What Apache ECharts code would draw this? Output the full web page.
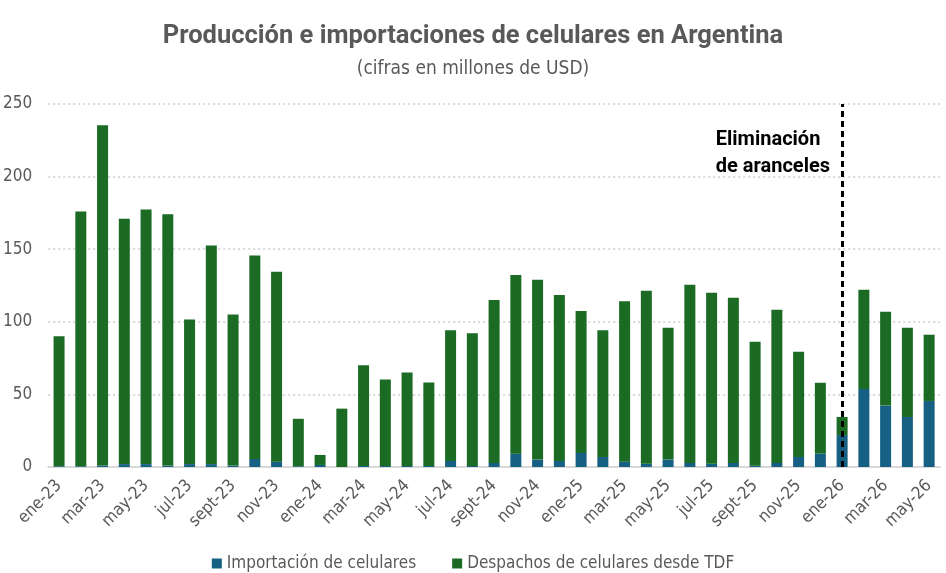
<!DOCTYPE html>
<html>
<head>
<meta charset="utf-8">
<script src="https://cdn.jsdelivr.net/npm/echarts@6/dist/echarts.min.js"></script>
<style>
  html, body { margin: 0; padding: 0; background: #fff; }
  #chart { width: 946px; height: 573px; }
</style>
</head>
<body>
<div id="chart"></div>
<script>
// Producción e importaciones de celulares (millones de USD)

var meses = [
    'ene-23', 'feb-23', 'mar-23', 'abr-23', 'may-23', 'jun-23', 'jul-23', 'ago-23', 'sept-23', 'oct-23', 'nov-23', 'dic-23',
    'ene-24', 'feb-24', 'mar-24', 'abr-24', 'may-24', 'jun-24', 'jul-24', 'ago-24', 'sept-24', 'oct-24', 'nov-24', 'dic-24',
    'ene-25', 'feb-25', 'mar-25', 'abr-25', 'may-25', 'jun-25', 'jul-25', 'ago-25', 'sept-25', 'oct-25', 'nov-25', 'dic-25',
    'ene-26', 'feb-26', 'mar-26', 'abr-26', 'may-26'
];

// importaciones (parte azul)
var importacion = [
    0.5, 0.5, 1, 2, 2, 1, 2, 2, 1, 5.5, 3.7, 0.5,
    1.4, 0, 0.7, 0.7, 0.7, 0.7, 4.2, 0.7, 2.8, 9.2, 5.1, 4.2,
    9.7, 6.9, 3.7, 2.3, 5.1, 2.8, 2.3, 2.8, 0.9, 2.8, 6.9, 9.2,
    22, 53.8, 42.3, 34.5, 45.5
];

// total de cada barra (azul + verde)
var total = [
    90, 176, 235.3, 171, 177.3, 174, 101.5, 152.5, 105, 145.6, 134.5, 33.2,
    8.3, 40.2, 70, 60.3, 65.1, 58.2, 94.2, 92.1, 115, 132.3, 128.9, 118.5,
    107.4, 94.2, 114.1, 121.4, 95.9, 125.6, 120, 116.6, 86.2, 108.3, 79.3, 58,
    34.5, 122.1, 107, 95.9, 91.1
];

var despachos = total.map(function (t, i) {
    return +(t - importacion[i]).toFixed(1);
});

var gris = '#595959';
var fuente = "'Liberation Sans Narrow', 'DejaVu Sans Condensed', Roboto, sans-serif";

var chart = echarts.init(document.getElementById('chart'), null, {renderer: 'canvas'});

var option = {
    backgroundColor: '#fff',
    animation: false,
    title: {
        text: 'Producción e importaciones de celulares en Argentina',
        subtext: '(cifras en millones de USD)',
        left: 'center',
        top: 19,
        itemGap: 10,
        textStyle: {
            fontFamily: 'Roboto, sans-serif',
            fontWeight: 'bold',
            fontSize: 25.5,
            color: gris
        },
        subtextStyle: {
            fontFamily: fuente,
            fontSize: 19,
            color: gris
        }
    },
    legend: {
        bottom: -4,
        left: 'center',
        itemWidth: 10,
        itemHeight: 10,
        itemGap: 36,
        icon: 'rect',
        textStyle: {
            fontFamily: fuente,
            fontSize: 17,
            color: gris
        },
        data: ['Importación de celulares', 'Despachos de celulares desde TDF']
    },
    grid: {
        left: 44,
        right: 6,
        top: 104,
        bottom: 106,
        containLabel: false
    },
    xAxis: {
        type: 'category',
        data: meses,
        axisLine: {lineStyle: {color: '#d9d9d9', width: 2}},
        axisTick: {
            interval: 1,
            length: 5,
            lineStyle: {color: '#d9d9d9', width: 2}
        },
        axisLabel: {
            interval: 1,
            rotate: 45,
            margin: 16,
            fontFamily: fuente,
            fontSize: 17,
            color: gris
        }
    },
    yAxis: {
        type: 'value',
        min: 0,
        max: 250,
        interval: 50,
        axisLine: {show: false},
        axisTick: {show: false},
        axisLabel: {
            margin: 16,
            fontFamily: fuente,
            fontSize: 17,
            color: gris
        },
        splitLine: {
            lineStyle: {color: '#d9d9d9', type: [2, 3], width: 2}
        }
    },
    series: [
        {
            name: 'Importación de celulares',
            type: 'bar',
            stack: 'total',
            barWidth: 11,
            itemStyle: {color: '#166083'},
            data: importacion
        },
        {
            name: 'Despachos de celulares desde TDF',
            type: 'bar',
            stack: 'total',
            barWidth: 11,
            itemStyle: {color: '#1b6b25'},
            data: despachos,
            markLine: {
                silent: true,
                symbol: 'none',
                lineStyle: {color: '#000', type: [6, 4], width: 3},
                label: {show: false},
                data: [
                    [{coord: ['ene-26', 0]}, {coord: ['ene-26', 250]}]
                ]
            }
        }
    ],
    graphic: [
        {
            type: 'text',
            right: 116,
            top: 126,
            style: {
                text: 'Eliminación\nde aranceles',
                align: 'right',
                fontFamily: "'Liberation Sans Narrow', Roboto, sans-serif",
                fontWeight: 'bold',
                fontSize: 20,
                lineHeight: 27,
                fill: '#000'
            }
        }
    ]
};

chart.setOption(option);
</script>
</body>
</html>
